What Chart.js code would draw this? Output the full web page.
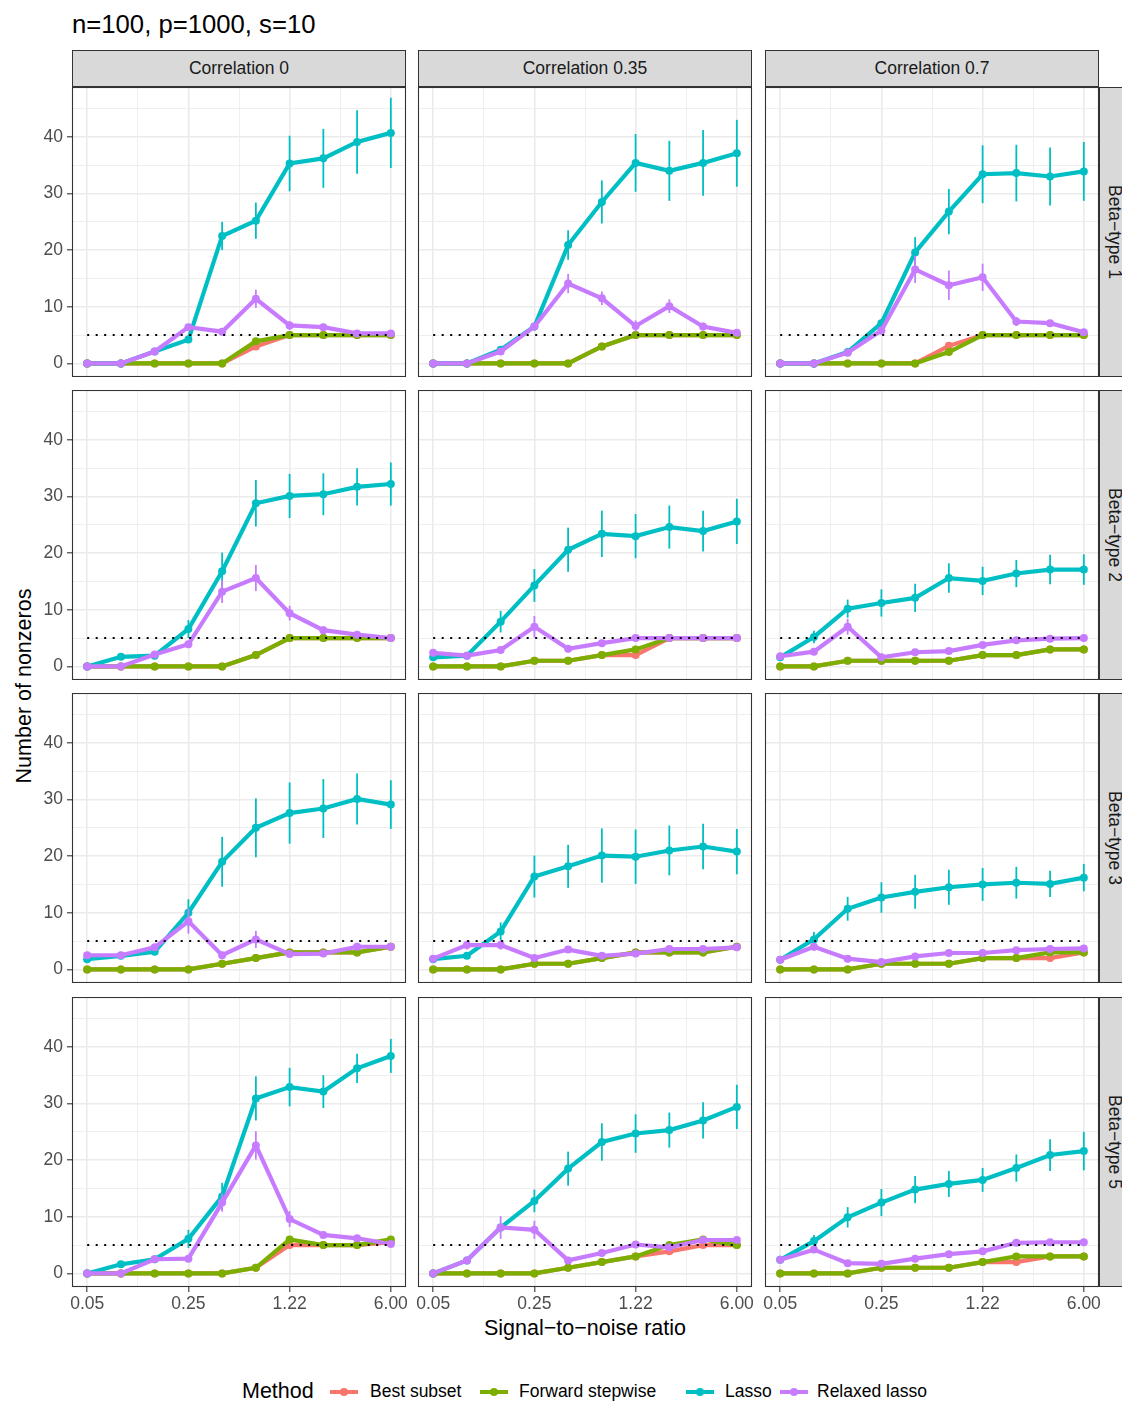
<!DOCTYPE html>
<html>
<head>
<meta charset="utf-8">
<script src="https://cdn.jsdelivr.net/npm/chart.js@4.4.1/dist/chart.umd.min.js"></script>
<style>
  body { margin: 0; background: #fff; }
  #fig { position: relative; width: 1122px; height: 1402px; overflow: hidden;
         font-family: 'Liberation Sans', Arial, Helvetica, sans-serif; color: #000; }
  #fig canvas { position: absolute; }
  .txt { position: absolute; white-space: nowrap; }
  .strip { position: absolute; box-sizing: border-box; background: #D9D9D9; border: 1.1px solid #333;
           color: #1A1A1A; font-size: 17.5px; display: flex; align-items: center; justify-content: center; }
  .stripR { writing-mode: vertical-rl; padding-right: 6px; }
  .key { position: absolute; height: 4px; }
  .key i { position: absolute; left: 10px; top: -2px; width: 8px; height: 8px; border-radius: 50%; background: inherit; }
</style>
</head>
<body>
<div id="fig">
  <div class="txt" style="left:72px; top:12px; font-size:25.7px; line-height:25.7px;">n=100, p=1000, s=10</div>
  <div class="txt" style="left:-176px; top:674px; width:400px; text-align:center; font-size:21.5px; line-height:24px; transform:rotate(-90deg);">Number of nonzeros</div>
  <div class="txt" style="left:385px; top:1318px; width:400px; text-align:center; font-size:21.5px; line-height:21.5px;">Signal&minus;to&minus;noise ratio</div>
  <div id="legend"></div>
</div>
<script>
// x positions are the 10 SNR levels (log spaced), labelled at every third one
const snrLabels = ['0.05', '0.09', '0.14', '0.25', '0.42', '0.71', '1.22', '2.07', '3.52', '6.00'];
const correlations = ['Correlation 0', 'Correlation 0.35', 'Correlation 0.7'];
const betaTypes = ['Beta\u2212type 1', 'Beta\u2212type 2', 'Beta\u2212type 3', 'Beta\u2212type 5'];
const methods = ['Best subset', 'Forward stepwise', 'Lasso', 'Relaxed lasso'];
const methodColors = ['#F8766D', '#7CAE00', '#00BFC4', '#C77CFF'];
const refLevel = 5;

// [beta type][correlation][snr]
const bestSubset = [
  [[0,0,0,0,0,3,5,5,5,5], [0,0,0,0,0,3,5,5,5,5], [0,0,0,0,0,3.1,5,5,5,5]],
  [[0,0,0,0,0,2,5,5,5,5], [0,0,0,1,1,2,2,5,5,5], [0,0,1,1,1,1,2,2,3,3]],
  [[0,0,0,0,1,2,3,3,3,4], [0,0,0,1,1,2,3,3,3,4], [0,0,0,1,1,1,2,2,2,3]],
  [[0,0,0,0,0,1,5,5,5,5.5], [0,0,0,0,1,2,3,3.9,5,5], [0,0,0,1,1,1,2,2,3,3]]
];
const forwardStepwise = [
  [[0,0,0,0,0,3.9,5,5,5,5], [0,0,0,0,0,3,5,5,5,5], [0,0,0,0,0,2,5,5,5,5]],
  [[0,0,0,0,0,2,5,5,5,5], [0,0,0,1,1,2,3,5,5,5], [0,0,1,1,1,1,2,2,3,3]],
  [[0,0,0,0,1,2,3,3,3,4], [0,0,0,1,1,2,3,3,3,4], [0,0,0,1,1,1,2,2,3,3]],
  [[0,0,0,0,0,1,6,5,5,6], [0,0,0,0,1,2,3,5,6,5], [0,0,0,1,1,1,2,3,3,3]]
];
const lasso = [
  [[0,0,2.1,4.2,22.5,25.2,35.3,36.2,39.1,40.7], [0,0,2.4,6.5,20.9,28.5,35.4,34.0,35.4,37.1], [0,0,2.0,7.1,19.6,26.8,33.4,33.6,33.0,33.9]],
  [[0,1.7,1.9,6.6,16.8,28.8,30.1,30.4,31.7,32.2], [1.6,1.9,7.9,14.3,20.6,23.4,23.0,24.6,23.9,25.6], [1.6,5.2,10.2,11.2,12.1,15.6,15.1,16.4,17.1,17.1]],
  [[1.8,2.4,3.1,10.0,19.0,25.0,27.6,28.4,30.1,29.1], [1.8,2.4,6.7,16.4,18.2,20.1,19.9,21.0,21.7,20.8], [1.7,5.3,10.7,12.7,13.7,14.5,15.0,15.3,15.1,16.2]],
  [[0,1.6,2.5,6.1,13.6,30.9,32.9,32.1,36.2,38.4], [0,2.3,8.1,12.8,18.5,23.2,24.7,25.3,27.0,29.4], [2.4,5.7,9.9,12.5,14.8,15.8,16.5,18.6,20.9,21.6]]
];
const lassoErr = [
  [[0,0,0.2,0.5,2.5,3.2,4.9,5.2,5.6,6.2], [0,0,0.3,0.6,2.6,3.8,5.1,5.3,5.8,5.9], [0,0,0.3,0.7,2.7,4.0,5.1,5.0,5.1,5.2]],
  [[0,0.3,0.3,1.6,3.3,4.1,3.9,3.7,3.3,3.8], [0.3,0.3,1.9,2.9,3.9,4.1,3.9,3.8,3.6,4.0], [0.3,1.1,1.6,2.4,2.5,2.6,2.5,2.4,2.6,2.7]],
  [[0.3,0.4,0.5,2.4,4.4,5.2,5.4,5.2,4.5,4.3], [0.3,0.4,1.6,3.7,3.8,4.8,4.8,4.4,4.0,4.0], [0.3,1.3,2.1,2.7,3.0,3.1,2.9,2.8,2.3,2.4]],
  [[0,0.4,0.5,1.6,2.4,3.9,3.4,2.9,2.6,3.0], [0,0.4,0.6,2.0,3.0,3.3,3.4,3.1,3.2,3.9], [0.3,1.1,1.8,2.4,2.4,2.3,2.1,2.4,2.8,3.4]]
];
const relaxedLasso = [
  [[0,0,2.1,6.4,5.6,11.4,6.7,6.4,5.3,5.3], [0,0,2.1,6.5,14.1,11.5,6.6,10.1,6.5,5.4], [0,0,1.9,5.8,16.6,13.8,15.2,7.4,7.1,5.5]],
  [[0,0,2.1,3.9,13.2,15.6,9.4,6.4,5.6,5.0], [2.4,1.9,2.9,7.0,3.1,4.1,5.0,5.0,5.0,5.0], [1.8,2.6,7.0,1.6,2.5,2.7,3.8,4.6,4.9,5.0]],
  [[2.5,2.5,3.9,8.5,2.5,5.3,2.7,2.8,4.0,4.0], [1.9,4.3,4.3,2.0,3.5,2.4,2.8,3.6,3.6,3.9], [1.7,4.0,1.9,1.3,2.3,2.9,2.9,3.4,3.6,3.7]],
  [[0,0,2.5,2.6,12.5,22.6,9.6,6.8,6.2,5.2], [0,2.3,8.1,7.7,2.3,3.6,5.1,4.6,5.9,5.9], [2.4,4.2,1.8,1.7,2.6,3.4,3.9,5.4,5.5,5.5]]
];
const relaxedErr = [
  [[0,0,0.2,0.6,0.5,1.6,0.8,0.6,0.4,0.4], [0,0,0.3,0.7,1.7,1.2,1.0,1.2,0.7,0.4], [0,0,0.2,0.7,2.4,2.6,2.4,0.8,0.6,0.4]],
  [[0,0,0.3,0.5,2.0,2.3,1.3,0.7,0.5,0.3], [0.4,0.3,0.5,1.9,0.6,0.6,0.4,0.3,0.3,0.3], [0.4,0.5,1.4,0.4,0.5,0.5,0.5,0.4,0.4,0.3]],
  [[0.4,0.4,0.6,2.2,0.6,1.5,0.5,0.5,0.6,0.5], [0.4,0.8,0.8,0.5,0.6,0.5,0.5,0.6,0.5,0.5], [0.4,0.7,0.4,0.3,0.4,0.5,0.4,0.5,0.5,0.5]],
  [[0,0,0.4,0.5,1.6,2.5,1.4,0.6,0.5,0.4], [0,0.4,2.0,1.6,0.5,0.6,0.5,0.5,0.5,0.5], [0.4,0.6,0.4,0.4,0.4,0.5,0.5,0.5,0.5,0.5]]
];

// panel geometry
const PANEL_X = [72, 418, 765];
const PANEL_Y = [87, 390, 693, 997];
const PANEL_W = 334;
const PANEL_H = 290;
const FONT = "'Liberation Sans', Arial, Helvetica, sans-serif";

Chart.defaults.font.family = FONT;

const errorBars = {
  id: 'errorBars',
  afterDatasetDraw(chart, args) {
    const ds = chart.data.datasets[args.index];
    if (!ds.errors) return;
    const ctx = chart.ctx, yScale = chart.scales.y, a = chart.chartArea;
    ctx.save();
    ctx.beginPath();
    ctx.rect(a.left, a.top, a.right - a.left, a.bottom - a.top);
    ctx.clip();
    ctx.strokeStyle = ds.borderColor;
    ctx.lineWidth = 1.8;
    args.meta.data.forEach((pt, i) => {
      const e = ds.errors[i];
      if (!e) return;
      const v = ds.data[i].y;
      ctx.beginPath();
      ctx.moveTo(pt.x, yScale.getPixelForValue(v - e));
      ctx.lineTo(pt.x, yScale.getPixelForValue(v + e));
      ctx.stroke();
    });
    ctx.restore();
  }
};

const panelBorder = {
  id: 'panelBorder',
  afterDraw(chart) {
    const a = chart.chartArea, ctx = chart.ctx;
    ctx.save();
    ctx.strokeStyle = '#333333';
    ctx.lineWidth = 1.1;
    ctx.strokeRect(a.left + 0.5, a.top + 0.5, a.right - a.left - 1, a.bottom - a.top - 1);
    ctx.restore();
  }
};

function panelDatasets(r, c) {
  const series = [bestSubset, forwardStepwise, lasso, relaxedLasso];
  const errs = [null, null, lassoErr, relaxedErr];
  const sets = [{
    label: 'reference',
    data: [{ x: 0, y: refLevel }, { x: 9, y: refLevel }],
    borderColor: '#000', borderWidth: 2, borderDash: [2, 6.5],
    pointRadius: 0, order: 0
  }];
  series.forEach((s, m) => {
    sets.push({
      label: methods[m],
      data: s[r][c].map((v, i) => ({ x: i, y: v })),
      errors: errs[m] ? errs[m][r][c] : null,
      borderColor: methodColors[m],
      backgroundColor: methodColors[m],
      borderWidth: 4.2,
      pointRadius: 4,
      pointBorderWidth: 0,
      order: 4 - m
    });
  });
  return sets;
}

function makePanel(r, c) {
  const fig = document.getElementById('fig');
  const gl = c === 0 ? 50 : 12, gr = 12, gb = r === 3 ? 34 : 0;
  const cv = document.createElement('canvas');
  cv.width = PANEL_W + gl + gr;
  cv.height = PANEL_H + gb;
  cv.style.left = (PANEL_X[c] - gl) + 'px';
  cv.style.top = PANEL_Y[r] + 'px';
  fig.appendChild(cv);

  const showX = r === 3, showY = c === 0;
  const tickFont = { size: 17.5, family: FONT };

  new Chart(cv, {
    type: 'line',
    data: { datasets: panelDatasets(r, c) },
    options: {
      responsive: false,
      animation: false,
      events: [],
      layout: { autoPadding: false, padding: { left: 0, right: gr, top: 0, bottom: 0 } },
      plugins: { legend: { display: false }, tooltip: { enabled: false } },
      scales: {
        x: {
          type: 'linear', min: -0.45, max: 9.45,
          afterBuildTicks: s => { s.ticks = [0, 1.5, 3, 4.5, 6, 7.5, 9].map(v => ({ value: v })); },
          afterFit: s => { s.height = gb; s.paddingLeft = 0; s.paddingRight = 0; },
          border: { display: false },
          grid: {
            color: '#EBEBEB',
            lineWidth: ctx => (ctx.tick && ctx.tick.value % 3 === 0) ? 1.6 : 0.8,
            drawTicks: showX, tickLength: 5, tickWidth: 1.1,
            tickColor: ctx => (ctx.tick && ctx.tick.value % 3 === 0) ? '#333333' : 'rgba(0,0,0,0)'
          },
          ticks: {
            display: showX, autoSkip: false, maxRotation: 0, padding: 2,
            color: '#4D4D4D', font: tickFont,
            callback: v => (v % 3 === 0) ? snrLabels[v] : ''
          }
        },
        y: {
          type: 'linear', min: -2.4, max: 48.8,
          afterBuildTicks: s => { s.ticks = [0, 5, 10, 15, 20, 25, 30, 35, 40, 45].map(v => ({ value: v })); },
          afterFit: s => { s.width = gl; s.paddingTop = 0; s.paddingBottom = 0; },
          border: { display: false },
          grid: {
            color: '#EBEBEB',
            lineWidth: ctx => (ctx.tick && ctx.tick.value % 10 === 0) ? 1.6 : 0.8,
            drawTicks: showY, tickLength: 5, tickWidth: 1.1,
            tickColor: ctx => (ctx.tick && ctx.tick.value % 10 === 0) ? '#333333' : 'rgba(0,0,0,0)'
          },
          ticks: {
            display: showY, autoSkip: false, padding: 4,
            color: '#4D4D4D', font: tickFont,
            callback: v => (v % 10 === 0) ? String(v) : ''
          }
        }
      }
    },
    plugins: [errorBars, panelBorder]
  });
}

function makeStrips() {
  const fig = document.getElementById('fig');
  correlations.forEach((name, c) => {
    const d = document.createElement('div');
    d.className = 'strip';
    d.style.left = PANEL_X[c] + 'px';
    d.style.top = '50px';
    d.style.width = PANEL_W + 'px';
    d.style.height = '37px';
    d.textContent = name;
    fig.appendChild(d);
  });
  betaTypes.forEach((name, r) => {
    const d = document.createElement('div');
    d.className = 'strip stripR';
    d.style.left = (PANEL_X[2] + PANEL_W) + 'px';
    d.style.top = PANEL_Y[r] + 'px';
    d.style.width = '37px';
    d.style.height = PANEL_H + 'px';
    d.textContent = name;
    fig.appendChild(d);
  });
}

function makeLegend() {
  const box = document.getElementById('legend');
  const keyX = [330, 480, 686, 780];
  const textX = [370, 519, 725, 817];
  let html = '<div class="txt" style="left:242px; top:1381px; font-size:21.5px; line-height:21.5px;">Method</div>';
  methods.forEach((m, i) => {
    html += '<div class="key" style="left:' + keyX[i] + 'px; top:1390px; width:28px; background:' + methodColors[i] + ';"><i></i></div>';
    html += '<div class="txt" style="left:' + textX[i] + 'px; top:1383px; font-size:17.5px; line-height:17.5px;">' + m + '</div>';
  });
  box.innerHTML = html;
}

makeStrips();
for (let r = 0; r < betaTypes.length; r++) {
  for (let c = 0; c < correlations.length; c++) makePanel(r, c);
}
makeLegend();
</script>
</body>
</html>
